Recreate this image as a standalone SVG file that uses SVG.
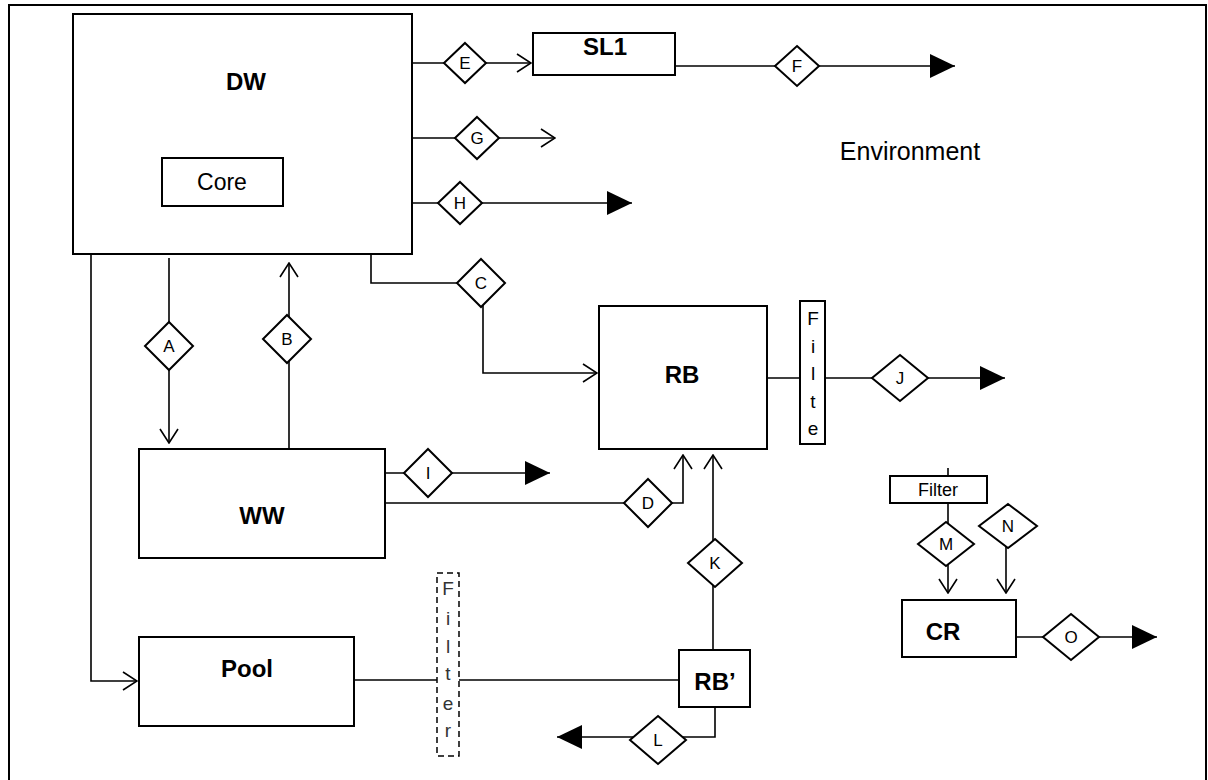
<svg xmlns="http://www.w3.org/2000/svg" width="1208" height="780" viewBox="0 0 1208 780">
<style>
.box{fill:#fff;stroke:#000;stroke-width:2}
.dash{fill:#fff;stroke:#000;stroke-width:1.5;stroke-dasharray:6,4}
.dia{fill:#fff;stroke:#000;stroke-width:2}
.ln{fill:none;stroke:#000;stroke-width:1.6}
.big{font-family:"Liberation Sans",Arial,sans-serif;font-weight:bold;font-size:24px;text-anchor:middle}
.lab{font-family:"Liberation Sans",Arial,sans-serif;font-size:17px;text-anchor:middle}
.med{font-family:"Liberation Sans",Arial,sans-serif;font-size:23px;text-anchor:middle}
.vt{font-family:"Liberation Sans",Arial,sans-serif;font-size:19px;text-anchor:middle}
</style>
<defs>
<marker id="open" viewBox="0 0 16 20" refX="15" refY="10" markerWidth="16" markerHeight="20" markerUnits="userSpaceOnUse" orient="auto">
<path d="M1,1 L15,10 L1,19" fill="none" stroke="#000" stroke-width="1.6"/>
</marker>
<marker id="fill" viewBox="0 0 25 24" refX="25" refY="12" markerWidth="25" markerHeight="24" markerUnits="userSpaceOnUse" orient="auto">
<path d="M0,0 L25,12 L0,24 Z" fill="#000"/>
</marker>
</defs>
<rect x="0" y="0" width="1208" height="780" fill="#fff"/>
<rect x="9" y="5" width="1197" height="800" fill="none" stroke="#000" stroke-width="2"/>

<g id="connectors">
<path class="ln" d="M162,182 H91 V681 H137" marker-end="url(#open)"/>
<path class="ln" d="M169,258 V443" marker-end="url(#open)"/>
<path class="ln" d="M289,449 V263" marker-end="url(#open)"/>
<path class="ln" d="M371,254 V283 H483 V373 H597" marker-end="url(#open)"/>
<path class="ln" d="M385,503 H683 V455" marker-end="url(#open)"/>
<path class="ln" d="M385,473 H550" marker-end="url(#fill)"/>
<path class="ln" d="M713,650 V455" marker-end="url(#open)"/>
<path class="ln" d="M715,707 V737 H557" marker-end="url(#fill)"/>
<path class="ln" d="M354,680 H679"/>
<path class="ln" d="M767,378 H1005" marker-end="url(#fill)"/>
<path class="ln" d="M412,63 H531" marker-end="url(#open)"/>
<path class="ln" d="M675,66 H955" marker-end="url(#fill)"/>
<path class="ln" d="M412,138 H555" marker-end="url(#open)"/>
<path class="ln" d="M412,203 H632" marker-end="url(#fill)"/>
<path class="ln" d="M948,468 V476"/>
<path class="ln" d="M948,503 V593" marker-end="url(#open)"/>
<path class="ln" d="M1006,526 V593" marker-end="url(#open)"/>
<path class="ln" d="M1016,637 H1157" marker-end="url(#fill)"/>
</g>

<g id="DW"><rect class="box" x="73" y="14" width="339" height="240"/><text class="big" x="246" y="90">DW</text></g>
<g id="Core"><rect class="box" x="162" y="158" width="121" height="48"/><text class="med" x="222" y="190">Core</text></g>
<g id="SL1"><rect class="box" x="533" y="33" width="142" height="42"/><text class="big" x="605" y="55">SL1</text></g>
<g id="WW"><rect class="box" x="139" y="449" width="246" height="109"/><text class="big" x="262" y="524">WW</text></g>
<g id="Pool"><rect class="box" x="139" y="637" width="215" height="89"/><text class="big" x="247" y="677">Pool</text></g>
<g id="RB"><rect class="box" x="599" y="306" width="168" height="143"/><text class="big" x="682" y="383">RB</text></g>
<g id="RBp"><rect class="box" x="679" y="650" width="71" height="57"/><text class="big" x="715" y="690">RB’</text></g>
<g id="CR"><rect class="box" x="902" y="600" width="114" height="57"/><text class="big" x="943" y="640">CR</text></g>
<g id="FilterRB"><rect class="box" x="800" y="301" width="25" height="143"/>
<text class="vt" x="813" y="325">F</text><text class="vt" x="813" y="353">i</text><text class="vt" x="813" y="380">l</text><text class="vt" x="813" y="408">t</text><text class="vt" x="813" y="435">e</text></g>
<g id="FilterPool"><rect class="dash" x="437" y="573" width="22" height="183"/>
<text class="vt" x="448" y="595" fill="#333">F</text><text class="vt" x="448" y="625" fill="#333">i</text><text class="vt" x="448" y="653" fill="#333">l</text><text class="vt" x="448" y="680" fill="#333">t</text><text class="vt" x="448" y="710" fill="#333">e</text><text class="vt" x="448" y="737" fill="#333">r</text></g>
<g id="FilterCR"><rect class="box" x="890" y="476" width="97" height="27"/><text class="lab" x="938" y="496" style="font-size:18px">Filter</text></g>
<g id="Environment"><text class="med" x="910" y="160" style="font-size:25px">Environment</text></g>

<g id="dA"><polygon class="dia" points="169,322 193,346 169,370 145,346"/><text class="lab" x="169" y="352">A</text></g>
<g id="dB"><polygon class="dia" points="287,315 311,339 287,363 263,339"/><text class="lab" x="287" y="345">B</text></g>
<g id="dC"><polygon class="dia" points="481,259 505,283 481,307 457,283"/><text class="lab" x="481" y="289">C</text></g>
<g id="dD"><polygon class="dia" points="648,479 672,503 648,527 624,503"/><text class="lab" x="648" y="509">D</text></g>
<g id="dE"><polygon class="dia" points="465,43 486,63 465,83 444,63"/><text class="lab" x="465" y="69">E</text></g>
<g id="dF"><polygon class="dia" points="797,46 819,66 797,86 775,66"/><text class="lab" x="797" y="72">F</text></g>
<g id="dG"><polygon class="dia" points="477,117 499,138 477,159 455,138"/><text class="lab" x="477" y="144">G</text></g>
<g id="dH"><polygon class="dia" points="460,182 482,203 460,224 438,203"/><text class="lab" x="460" y="209">H</text></g>
<g id="dI"><polygon class="dia" points="428,449 452,473 428,497 404,473"/><text class="lab" x="428" y="479">I</text></g>
<g id="dJ"><polygon class="dia" points="900,355 928,378 900,401 872,378"/><text class="lab" x="900" y="384">J</text></g>
<g id="dK"><polygon class="dia" points="715,539 742,563 715,587 688,563"/><text class="lab" x="715" y="569">K</text></g>
<g id="dL"><polygon class="dia" points="658,716 686,740 658,764 630,740"/><text class="lab" x="658" y="746">L</text></g>
<g id="dM"><polygon class="dia" points="946,522 974,544 946,566 918,544"/><text class="lab" x="946" y="550">M</text></g>
<g id="dN"><polygon class="dia" points="1008,504 1037,526 1008,548 979,526"/><text class="lab" x="1008" y="532">N</text></g>
<g id="dO"><polygon class="dia" points="1071,614 1099,637 1071,660 1043,637"/><text class="lab" x="1071" y="643">O</text></g>
</svg>
